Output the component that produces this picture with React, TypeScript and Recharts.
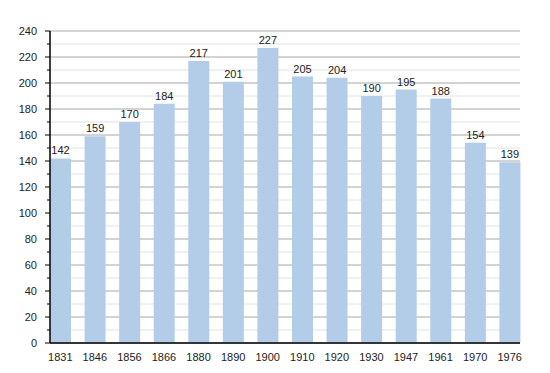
import { Bar, BarChart, CartesianGrid, LabelList, XAxis, YAxis } from 'recharts'

const years = ['1831', '1846', '1856', '1866', '1880', '1890', '1900', '1910', '1920', '1930', '1947', '1961', '1970', '1976']
const population = [142, 159, 170, 184, 217, 201, 227, 205, 204, 190, 195, 188, 154, 139]
const yTicks = [0, 10, 20, 30, 40, 50, 60, 70, 80, 90, 100, 110, 120, 130, 140, 150, 160, 170, 180, 190, 200, 210, 220, 230, 240]
const majorTicks = [0, 20, 40, 60, 80, 100, 120, 140, 160, 180, 200, 220, 240]
const minorTicks = [10, 30, 50, 70, 90, 110, 130, 150, 170, 190, 210, 230]

const data = years.map((year, i) => ({ year, value: population[i] }))

const font = '"Liberation Sans", Arial, sans-serif'

function YTick({ x, y, payload }: { x?: number; y?: number; payload?: { value: number } }) {
  const v = payload?.value ?? 0
  const major = v % 20 === 0
  return (
    <g>
      <line x1={(x ?? 0) - (major ? 5 : 3)} x2={x} y1={y} y2={y} stroke="#000" strokeWidth={1} />
      {major && (
        <text x={(x ?? 0) - 13} y={y} dy={4} textAnchor="end" fontSize={11} fill="#222" fontFamily={font}>
          {v}
        </text>
      )}
    </g>
  )
}

export default function App() {
  return (
    <div style={{ position: 'absolute', top: 0, left: 0, width: 550, height: 373, background: '#fff' }}>
      <BarChart width={550} height={373} data={data} margin={{ top: 31, right: 30, left: 0, bottom: 0 }} barSize={21}>
        <CartesianGrid vertical={false} horizontalValues={minorTicks} stroke="#e2e2e2" />
        <CartesianGrid vertical={false} horizontalValues={majorTicks} stroke="#a8a8a8" />
        <XAxis
          dataKey="year"
          height={30}
          padding={{ left: -7, right: -7 }}
          axisLine={{ stroke: '#000', strokeWidth: 1.5 }}
          tickLine={false}
          tickMargin={4}
          interval={0}
          tick={{ fill: '#222', fontSize: 11, fontFamily: font }}
        />
        <YAxis
          width={50}
          domain={[0, 240]}
          ticks={yTicks}
          interval={0}
          axisLine={{ stroke: '#000', strokeWidth: 1.5 }}
          tickLine={false}
          tickSize={0}
          tickMargin={0}
          tick={<YTick />}
        />
        <Bar dataKey="value" fill="#b3cce8" isAnimationActive={false}>
          <LabelList dataKey="value" position="top" offset={4} fill="#222" fontSize={11} fontFamily={font} />
        </Bar>
      </BarChart>
    </div>
  )
}
